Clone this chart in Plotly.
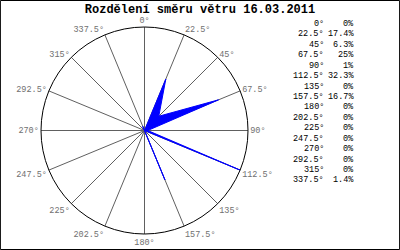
import plotly.graph_objects as go

directions = [0, 22.5, 45, 67.5, 90, 112.5, 135, 157.5, 180, 202.5, 225, 247.5, 270, 292.5, 315, 337.5]
percent = [0, 17.4, 6.3, 25, 1, 32.3, 0, 16.7, 0, 0, 0, 0, 0, 0, 0, 1.4]
dir_labels = ["0°", "22.5°", "45°", "67.5°", "90°", "112.5°", "135°", "157.5°", "180°",
              "202.5°", "225°", "247.5°", "270°", "292.5°", "315°", "337.5°"]
pct_labels = ["0%", "17.4%", "6.3%", "25%", "1%", "32.3%", "0%", "16.7%", "0%",
              "0%", "0%", "0%", "0%", "0%", "0%", "1.4%"]
title_text = "Rozdělení směru větru 16.03.2011"

MONO = "Liberation Mono, DejaVu Sans Mono, monospace"

fig = go.Figure()
fig.add_trace(go.Scatterpolar(
    r=percent + [percent[0]],
    theta=directions + [directions[0]],
    mode="lines",
    fill="toself",
    fillcolor="#0000ff",
    line=dict(color="#0000ff", width=1),
    hoverinfo="skip",
))

W, H = 400, 250
annotations = []
row0 = 24
step = 10.43
for i, (d, p) in enumerate(zip(dir_labels, pct_labels)):
    y = 1 - (row0 + i * step) / H
    annotations.append(dict(x=326 / W, y=y, xref="paper", yref="paper", text=d,
                            showarrow=False, xanchor="right", yanchor="middle",
                            font=dict(family=MONO, size=8.5, color="black")))
    annotations.append(dict(x=356 / W, y=y, xref="paper", yref="paper", text=p,
                            showarrow=False, xanchor="right", yanchor="middle",
                            font=dict(family=MONO, size=8.5, color="black")))

fig.update_layout(
    width=W, height=H,
    margin=dict(l=0, r=0, t=0, b=0),
    paper_bgcolor="white",
    plot_bgcolor="white",
    showlegend=False,
    title=dict(text="<b>" + title_text + "</b>", x=0.5, xanchor="center",
               y=1 - 9 / H, yanchor="middle",
               font=dict(family=MONO, size=12, color="black")),
    polar=dict(
        domain=dict(x=[41 / W, 248 / W], y=[(H - 234) / H, (H - 27) / H]),
        bgcolor="white",
        radialaxis=dict(range=[0, 32.3], visible=False, showgrid=False),
        angularaxis=dict(
            rotation=90, direction="clockwise",
            tickmode="array", tickvals=directions, ticktext=dir_labels,
            showgrid=True, gridcolor="#606060", gridwidth=1,
            showline=True, linecolor="black", linewidth=1,
            ticks="", tickfont=dict(family=MONO, size=8.5, color="#707070"),
        ),
    ),
    annotations=annotations,
    shapes=[dict(type="rect", xref="paper", yref="paper", x0=0.001, y0=0.002, x1=0.999, y1=0.998,
                 line=dict(color="black", width=1))],
)

fig.write_html("out.html")
